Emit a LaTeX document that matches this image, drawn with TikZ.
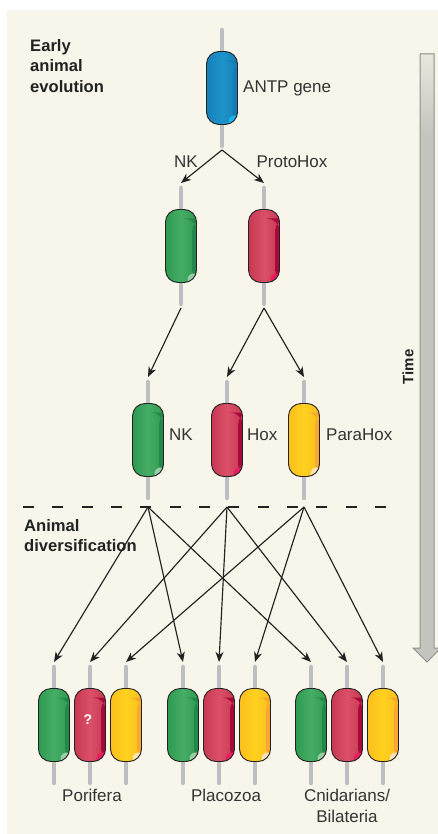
\documentclass[tikz,border=0pt]{standalone}
\usepackage{fontspec}
\setmainfont{Liberation Sans}
\usetikzlibrary{arrows.meta,calc}
\definecolor{bg}{HTML}{F8F6EB}
\definecolor{outl}{HTML}{222222}
\definecolor{stickc}{HTML}{BDBEC2}
\definecolor{txt}{HTML}{333333}
\definecolor{bL}{HTML}{1580B8}\definecolor{bM}{HTML}{1E93CB}\definecolor{bS}{HTML}{137BB4}\definecolor{bH}{HTML}{1AB4EE}
\definecolor{gL}{HTML}{2E9A51}\definecolor{gM}{HTML}{45AD66}\definecolor{gS}{HTML}{23894A}\definecolor{gH}{HTML}{9ACDA4}
\definecolor{rL}{HTML}{C83853}\definecolor{rM}{HTML}{DA5068}\definecolor{rS}{HTML}{A8083A}\definecolor{rH}{HTML}{E81C5E}
\definecolor{yL}{HTML}{FBBF1E}\definecolor{yM}{HTML}{FFD11E}\definecolor{yS}{HTML}{F6A832}\definecolor{yH}{HTML}{FDE3B5}
\definecolor{tgray}{HTML}{C4C5BF}
\definecolor{tedge}{HTML}{8F908C}
\tikzset{
  genebase/.style={draw=outl, line width=0.9pt, rounded corners=12.5pt,
    minimum width=31pt, minimum height=73pt, inner sep=0pt},
  genecol/.style n args={4}{left color=#1, right color=#1, middle color=#2,
    path picture={
      \fill[#3] ([xshift=-4.5pt,yshift=-9pt]path picture bounding box.north east) rectangle (path picture bounding box.south east);
      \fill[#4] ([xshift=-3pt,yshift=3pt]path picture bounding box.south east) circle (6pt);
    }},
  B/.style={genebase, genecol={bL}{bM}{bS}{bH}},
  G/.style={genebase, genecol={gL}{gM}{gS}{gH}},
  R/.style={genebase, genecol={rL}{rM}{rS}{rH}},
  Y/.style={genebase, genecol={yL}{yM}{yS}{yH}},
  stick/.style={draw=stickc, line width=4.5pt, line cap=round},
  arr/.style={draw=outl, line width=1.15pt, -{Stealth[length=10pt,width=8pt,inset=3pt]}},
  lab/.style={text=txt, font=\fontsize{17}{21}\selectfont, inner sep=0pt},
  ttl/.style={text=outl, font=\fontsize{16.6}{20.5}\selectfont\bfseries, inner sep=0pt, align=left},
}
\newcommand\gene[4]{%
  \draw[stick] (#2,#3-58) -- (#2,#3+58);
  \node[#4] (#1) at (#2,#3) {};
  \coordinate (#1-in) at (#2,#3-63);
  \coordinate (#1-out) at (#2,#3+62);
}
\begin{document}
\begin{tikzpicture}[x=1pt,y=-1pt]
\useasboundingbox (0,0) rectangle (438,834);
\fill[white] (0,0) rectangle (438,834);
\fill[bg] (7,10) rectangle (438,834);

% time arrow
\fill[tgray] (420,54) -- (434,54) -- (434,648) -- (441,648) -- (427,662) -- (413,648) -- (420,648) -- cycle;
\shade[top color=bg!70!tgray, bottom color=tgray] (420,54) rectangle (434,135);
\draw[tedge, line width=1pt, line join=miter] (420,54) -- (434,54) -- (434,648) -- (441,648) -- (427,662) -- (413,648) -- (420,648) -- cycle;
\node[rotate=90, text=outl, font=\fontsize{15}{18}\selectfont\bfseries, inner sep=0pt] (time) at (408,367) {Time};

% titles
\node[ttl, anchor=north west] (early) at (30,39) {Early\\animal\\evolution};
\node[ttl, anchor=north west] (divers) at (24,519) {Animal\\diversification};

% dashed line
\coordinate (dl) at (23,507);
\coordinate (dr) at (387,507);
\draw[outl, line width=1.2pt, dash pattern=on 11pt off 18.33pt] (dl) -- (dr);

% genes
\gene{antp}{222}{88}{B}
\gene{g2}{181}{246}{G}
\gene{r2}{264}{246}{R}
\gene{g3}{148}{440}{G}
\gene{h3}{227}{440}{R}
\gene{p3}{304}{440}{Y}
\gene{pg}{54}{725}{G}
\gene{pr}{90}{725}{R}
\gene{py}{126}{725}{Y}
\gene{qg}{183}{725}{G}
\gene{qr}{219}{725}{R}
\gene{qy}{255}{725}{Y}
\gene{cg}{311}{725}{G}
\gene{cr}{347}{725}{R}
\gene{cy}{383}{725}{Y}

\node[text=white, font=\fontsize{14}{16}\selectfont\bfseries, inner sep=0pt] (qm) at (88,720) {?};

% labels
\node[lab, anchor=west] (antplab) at (243,88) {ANTP gene};
\node[lab] (nklab) at (186,162) {NK};
\node[lab] (phlab) at (292,162) {ProtoHox};
\node[lab, anchor=west] (nk3) at (169,435) {NK};
\node[lab, anchor=west] (hox3) at (247,435) {Hox};
\node[lab, anchor=west] (para3) at (326,435) {ParaHox};
\node[lab] (por) at (92,795) {Porifera};
\node[lab] (plac) at (226,795) {Placozoa};
\node[lab, align=center] (cnid) at (347,806) {Cnidarians/\\Bilateria};

% connectors
\draw[arr] (antp-out) -- (g2-in);
\draw[arr] (antp-out) -- (r2-in);
\draw[arr] (g2-out) -- (g3-in);
\draw[arr] (r2-out) -- (h3-in);
\draw[arr] (r2-out) -- (p3-in);

\coordinate (nks) at (148,507);
\coordinate (hoxs) at (227,507);
\coordinate (paras) at (304,507);
\foreach \t in {pg,qg,cg} \draw[arr] (nks) -- (\t-in);
\foreach \t in {pr,qr,cr} \draw[arr] (hoxs) -- (\t-in);
\foreach \t in {py,qy,cy} \draw[arr] (paras) -- (\t-in);
\end{tikzpicture}
\end{document}
